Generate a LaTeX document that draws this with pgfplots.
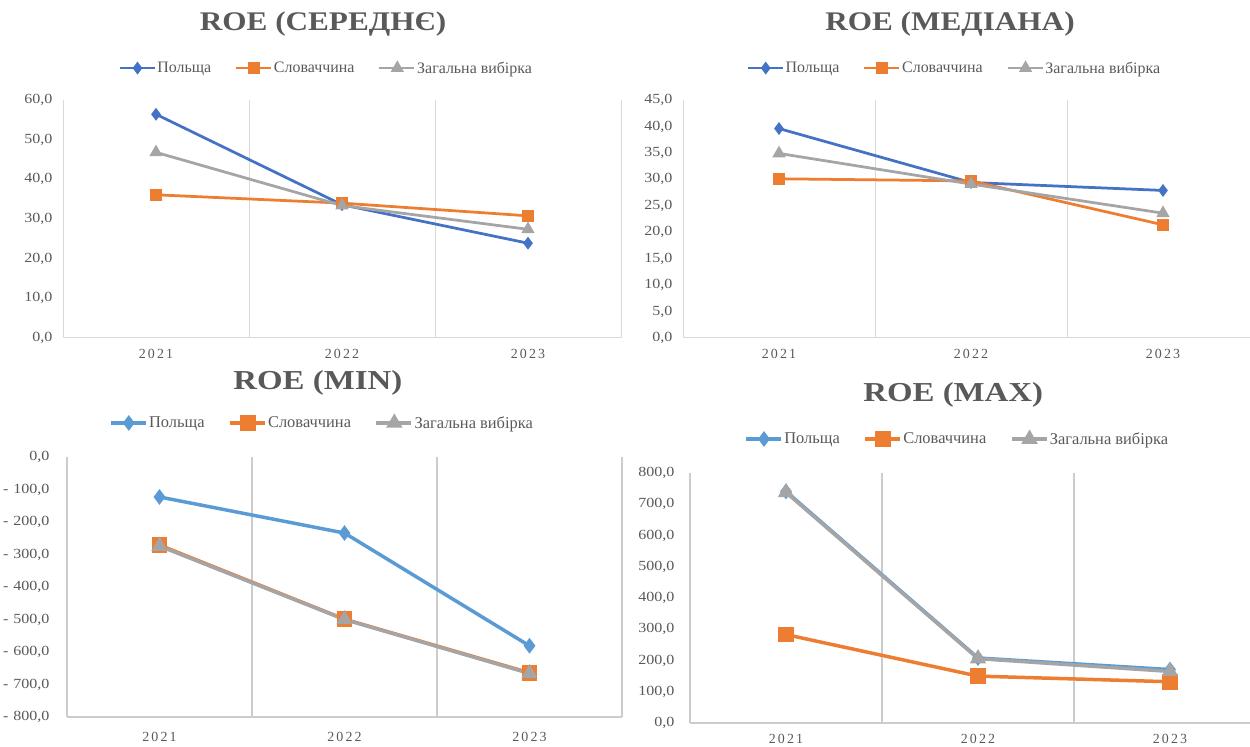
\documentclass[border=0pt]{standalone}
\usepackage{fontspec}
\setmainfont{Liberation Serif}
\newfontfamily\tickfont[FakeStretch=1.15]{Liberation Serif}
\newfontfamily\xtfont[LetterSpace=15]{Liberation Serif}
\newfontfamily\ttlfont[FakeStretch=1.16]{Liberation Serif}
\newfontfamily\ttlfontB[FakeStretch=1.2]{Liberation Serif}
\usepackage{pgfplots}
\pgfplotsset{compat=1.18}
\definecolor{cblue}{HTML}{4472C4}
\definecolor{cblueL}{HTML}{5B9BD5}
\definecolor{corange}{HTML}{ED7D31}
\definecolor{cgray}{HTML}{A5A5A5}
\definecolor{cgrid}{HTML}{D9D9D9}
\definecolor{cgridB}{HTML}{CCCCCC}
\definecolor{ctext}{HTML}{595959}

\pgfplotsset{
  roe/.style={
    scale only axis,
    xmin=0.5, xmax=3.5,
    xtick={1,2,3}, xticklabels={2021,2022,2023},
    minor xtick={0.5,1.5,2.5,3.5},
    xminorgrids,
    major tick length=0pt, minor tick length=0pt,
    axis x line*=bottom, axis y line*=left,
    y axis line style={draw=none},
    x axis line style={-},
    yticklabel style={font=\tickfont\fontsize{14}{16}\selectfont, text=ctext},
    xticklabel style={font=\xtfont\fontsize{14}{16}\selectfont, text=ctext},
    title style={anchor=center, yshift=0pt, text=ctext},
    legend columns=-1,
    legend style={anchor=center, draw=none, fill=none, text=ctext,
      /tikz/every even column/.append style={column sep=22bp},
      inner sep=0pt, nodes={inner sep=1.5bp}},
    legend image code/.code={\draw[mark repeat=2,mark phase=2] plot coordinates {(0bp,0bp)(18bp,0bp)(35bp,0bp)};},
  },
  top/.style={roe,
    minor x grid style={cgrid, line width=1bp},
    x axis line style={cgrid, line width=1bp},
    yticklabel style={xshift=-7bp, /pgf/number format/.cd, fixed, fixed zerofill, precision=1, use comma, assume math mode=true},
    xticklabel style={yshift=-8bp},
    title style={font=\ttlfont\bfseries\fontsize{27}{29}\selectfont},
    legend style={font=\fontsize{16}{18}\selectfont},
  },
  bot/.style={roe,
    minor x grid style={cgridB, line width=1.5bp},
    x axis line style={cgridB, line width=1.5bp},
    title style={font=\ttlfontB\bfseries\fontsize{27.5}{30}\selectfont},
    legend style={font=\fontsize{16.5}{18}\selectfont},
  },
  polT/.style={cblue, line width=2.75bp, mark=diamond*, mark size=4.2bp, mark options={fill=cblue}},
  sloT/.style={corange, line width=2.75bp, mark=square*, mark size=4.5bp, mark options={fill=corange}},
  genT/.style={cgray, line width=2.75bp, mark=triangle*, mark size=5bp, mark options={fill=cgray}},
  polB/.style={cblueL, line width=3.5bp, mark=diamond*, mark size=5bp, mark options={fill=cblueL}},
  sloB/.style={corange, line width=3.5bp, mark=square*, mark size=6bp, mark options={fill=corange}},
  genB/.style={cgray, line width=3.5bp, mark=triangle*, mark size=6bp, mark options={fill=cgray}},
}

\begin{document}
\begin{tikzpicture}
\useasboundingbox (0,0) rectangle (1250bp,747bp);
\clip (0,0) rectangle (1250bp,747bp);

% Panel 1: ROE (mean)
\begin{axis}[top, at={(63bp,409bp)}, anchor=south west, width=558bp, height=238bp,
  ymin=0, ymax=60, ytick={0,10,...,60},
  title={ROE (СЕРЕДНЄ)}, title style={at={(0.466,1.294)}},
  legend style={at={(0.471,1.134)}}]
\addplot[polT] coordinates {(1,56.4) (2,33.6) (3,23.9)};
\addplot[sloT] coordinates {(1,36.1) (2,34.0) (3,30.8)};
\addplot[genT] coordinates {(1,46.8) (2,33.4) (3,27.4)};
\legend{Польща,Словаччина,Загальна вибірка}
\end{axis}

% Panel 2: ROE (median)
\begin{axis}[top, at={(683bp,409bp)}, anchor=south west, width=576bp, height=238bp,
  ymin=0, ymax=45, ytick={0,5,...,45},
  title={ROE (МЕДІАНА)}, title style={at={(0.4635,1.294)}},
  legend style={at={(0.4705,1.134)}}]
\addplot[polT] coordinates {(1,39.6) (2,29.4) (3,27.9)};
\addplot[sloT] coordinates {(1,30.1) (2,29.7) (3,21.4)};
\addplot[genT] coordinates {(1,34.9) (2,29.1) (3,23.6)};
\legend{Польща,Словаччина,Загальна вибірка}
\end{axis}

% Panel 3: ROE (min)
\begin{axis}[bot, at={(67bp,30bp)}, anchor=south west, width=555bp, height=260bp,
  ymin=-800, ymax=0, ytick={-800,-700,...,0},
  yticklabel style={xshift=-14bp},
  xticklabel style={yshift=-12bp},
  yticklabels={{-\hspace{5bp}800,0},{-\hspace{5bp}700,0},{-\hspace{5bp}600,0},{-\hspace{5bp}500,0},{-\hspace{5bp}400,0},{-\hspace{5bp}300,0},{-\hspace{5bp}200,0},{-\hspace{5bp}100,0},{0,0}},
  title={ROE (MIN)}, title style={at={(0.452,1.261)}},
  legend style={at={(0.459,1.131)}}]
\addplot[polB] coordinates {(1,-123) (2,-234) (3,-581)};
\addplot[sloB] coordinates {(1,-271) (2,-499) (3,-664)};
\addplot[genB] coordinates {(1,-274) (2,-500) (3,-666)};
\legend{Польща,Словаччина,Загальна вибірка}
\end{axis}

% Panel 4: ROE (max)
\begin{axis}[bot, at={(690bp,24bp)}, anchor=south west, width=576bp, height=250bp,
  ymin=0, ymax=800, ytick={0,100,...,800},
  yticklabel style={xshift=-12bp, /pgf/number format/.cd, fixed, fixed zerofill, precision=1, use comma, assume math mode=true},
  xticklabel style={yshift=-8bp},
  title={ROE (MAX)}, title style={at={(0.457,1.288)}},
  legend style={at={(0.4635,1.136)}}]
\addplot[polB] coordinates {(1,741) (2,208) (3,171)};
\addplot[sloB] coordinates {(1,283) (2,150) (3,132)};
\addplot[genB] coordinates {(1,738) (2,206) (3,165)};
\legend{Польща,Словаччина,Загальна вибірка}
\end{axis}
\end{tikzpicture}
\end{document}
